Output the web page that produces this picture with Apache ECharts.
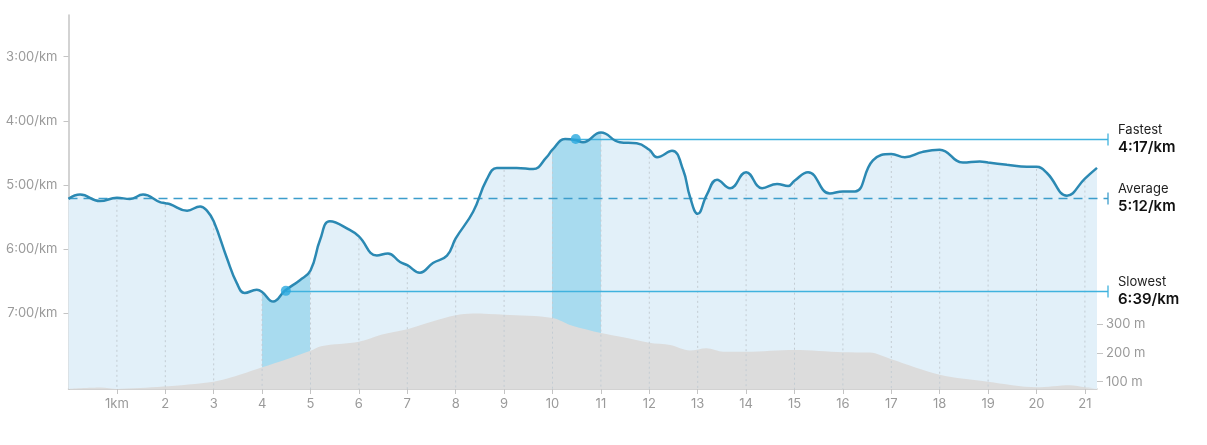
<!DOCTYPE html>
<html><head><meta charset="utf-8">
<script src="https://cdn.jsdelivr.net/npm/echarts@6/dist/echarts.min.js"></script>
<style>html,body{margin:0;padding:0;background:#fff}#c{width:1207px;height:445px}</style>
</head><body><div id="c"></div>
<script>
// ---- data ----
const paceKm  = [0,0.24,0.65,1,1.27,1.54,1.89,2,2.1,2.45,2.72,2.86,3,3.27,3.48,3.64,3.89,4,4.23,4.47,4.78,5,5.2,5.4,5.81,6,6.37,6.6,6.85,7,7.26,7.53,7.82,8,8.36,8.64,8.85,9,9.26,9.6,9.88,10,10.26,10.48,10.63,11,11.39,11.74,12,12.16,12.47,12.7,12.84,13,13.19,13.4,13.67,14,14.33,14.64,14.87,15,15.28,15.73,16,16.25,16.62,17,17.28,17.65,18,18.48,18.83,19,19.39,19.8,20,20.22,20.63,21,21.25];
const paceSec = [313,309,315,312,313,309,316,317,318,324,320,324,334,368,392,401,398,400,409,399,389,380,351,334,342,348,366,364,372,375,382,373,366,350,325,295,284,284,284,285,274,267,257,258,260,251,260,261,267,274,268,286,311,327,309,295,303,288,303,299,301,296,288,308,306,306,277,271,274,269,267,279,278,279,281,283,283,289,310,294,284];
const elevKm = [0,0.67,1,1.95,3,3.37,4,4.51,5,5.22,6,6.5,7,7.5,8,8.35,9,10,10.41,11,11.46,12,12.43,12.84,13.18,13.53,14,15,16,16.56,17,18,19,20,20.69,21,21.25];
const elevM  = [75,80,75,83,100,115,150,178,207,223,238,264,282,308,330,336,332,321,294,269,254,235,227,208,216,204,204,210,202,201,178,124,100,81,88,81,77];
const kmTicks = [1,2,3,4,5,6,7,8,9,10,11,12,13,14,15,16,17,18,19,20,21];
const paceTicks = [180,240,300,360,420];
const elevTicks = [100,200,300];
const bands = [[4,5],[10,11]];
const stats = [
  {name:'Fastest', km:10.48, sec:257, dashed:false},
  {name:'Average', km:null,  sec:312, dashed:true},
  {name:'Slowest', km:4.49,  sec:399, dashed:false}
];
const X_MAX = 21.25;
const PACE_MIN = 141, PACE_MAX = 490.8;
const ELEV_MIN = 74.7, ELEV_MAX = 1370.7;

// ---- helpers ----
function fmtPace(s){ const m=Math.floor(s/60), r=Math.round(s-m*60); return m+':'+(r<10?'0':'')+r+'/km'; }
const FONT = 'Inter, "Noto Sans", sans-serif';
const LIGHT = '#e2f0f9', DARK = '#a8dbef';
const stops = [];
bands.forEach(b=>{
  const a=b[0]/X_MAX, c=b[1]/X_MAX;
  stops.push({offset:a,color:LIGHT},{offset:a,color:DARK},{offset:c,color:DARK},{offset:c,color:LIGHT});
});
stops.unshift({offset:0,color:LIGHT}); stops.push({offset:1,color:LIGHT});

const paceData = paceKm.map((k,i)=>[k,paceSec[i]]);
const elevData = elevKm.map((k,i)=>[k,elevM[i]]);
const gridData = kmTicks.map(k=>[k, paceSec[paceKm.indexOf(k)]]);

const chart = echarts.init(document.getElementById('c'), null, {renderer:'canvas'});
const option = {
  animation:false,
  textStyle:{fontFamily:FONT},
  grid:{left:68.5, right:110, top:15, bottom:56},
  xAxis:{type:'value', min:0, max:X_MAX,
    axisLine:{show:true, lineStyle:{color:'#c4c4c4', width:1.5}},
    axisTick:{show:true, customValues:kmTicks, length:5, lineStyle:{color:'#c4c4c4'}},
    axisLabel:{customValues:kmTicks, color:'#9a9a9a', fontSize:13, margin:9, fontFamily:FONT,
      formatter:v=> v===1 ? '1km' : String(v)},
    splitLine:{show:false}},
  yAxis:[
    {type:'value', inverse:true, min:PACE_MIN, max:PACE_MAX, position:'left',
      axisLine:{show:true, lineStyle:{color:'#c4c4c4', width:1.5}},
      axisTick:{show:true, customValues:paceTicks, length:5, lineStyle:{color:'#c4c4c4'}},
      axisLabel:{customValues:paceTicks, color:'#9a9a9a', fontSize:13, margin:11, fontFamily:FONT, formatter:fmtPace},
      splitLine:{show:false}},
    {type:'value', min:ELEV_MIN, max:ELEV_MAX, position:'right',
      axisLine:{show:false},
      axisTick:{show:true, customValues:elevTicks, length:6, lineStyle:{color:'#c4c4c4'}},
      axisLabel:{customValues:elevTicks, color:'#9a9a9a', fontSize:13, margin:9, fontFamily:FONT, formatter:v=>v+' m'},
      splitLine:{show:false}}
  ],
  series:[
    {type:'line', name:'paceArea', data:paceData, smooth:0.45, showSymbol:false, z:1,
      lineStyle:{width:0}, areaStyle:{origin:'end', opacity:1,
        color:new echarts.graphic.LinearGradient(0,0,1,0,stops)}},
    {type:'line', name:'elev', yAxisIndex:1, data:elevData, smooth:0.3, showSymbol:false, z:2,
      lineStyle:{width:0}, areaStyle:{color:'#dcdcdc', opacity:1}},
    {type:'custom', name:'kmLines', data:gridData, z:2,
      renderItem:(params, api)=>{
        const t = api.coord([api.value(0), api.value(1)]);
        const b = api.coord([api.value(0), PACE_MAX]);
        return {type:'line', shape:{x1:t[0], y1:t[1]+2, x2:b[0], y2:b[1]},
          style:{stroke:'#c3ccd3', lineWidth:1, lineDash:[2,3]}};
      }},
    {type:'line', name:'pace', data:paceData, smooth:0.45, showSymbol:false, z:3,
      lineStyle:{color:'#2b89b3', width:2.5}},
    {type:'scatter', name:'extremes', z:4, symbolSize:10, itemStyle:{color:'#2aa9df'},
      data:stats.filter(s=>s.km!==null).map(s=>[s.km,s.sec])}
  ]
};
chart.setOption(option);

function px(x,y){ return chart.convertToPixel({xAxisIndex:0, yAxisIndex:0},[x,y]); }
const gridLeft = px(0,300)[0], gridRight = px(X_MAX,300)[0];
const capX = gridRight + 11;
const g = [];
stats.forEach(s=>{
  const p = s.dashed ? [gridLeft, px(0,s.sec)[1]] : px(s.km, s.sec);
  const y = Math.round(p[1])+0.5;
  const col = s.dashed ? '#3c9dcb' : '#40b2de';
  g.push({type:'line', z:2.5, shape:{x1:p[0], y1:y, x2:capX, y2:y},
    style:{stroke:col, lineWidth:1.3, lineDash: s.dashed ? [9,6] : null}});
  g.push({type:'line', z:2.5, shape:{x1:capX, y1:y-6, x2:capX, y2:y+6}, style:{stroke:col, lineWidth:1.3}});
  g.push({type:'text', z:10, x:capX+10, y:y-9, style:{text:s.name, fontSize:13, fill:'#1e1e1e', fontFamily:FONT, verticalAlign:'middle'}});
  g.push({type:'text', z:10, x:capX+10, y:y+8, style:{text:fmtPace(s.sec), fontSize:15, fontWeight:600, fill:'#111', fontFamily:FONT, verticalAlign:'middle'}});
});
chart.setOption({graphic:g});
</script></body></html>
